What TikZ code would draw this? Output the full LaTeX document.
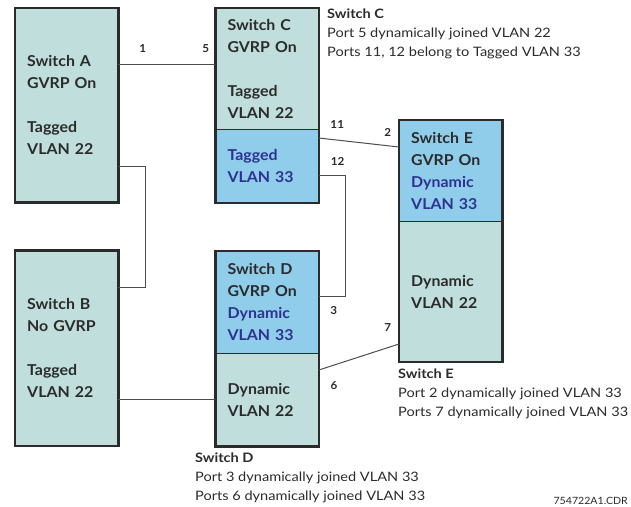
\documentclass[tikz,border=0pt]{standalone}
\usepackage{fontspec}
\setmainfont{Lato}[FakeStretch=1.06]
\newfontfamily\notefont{Lato}[FakeStretch=1.12]
\usepackage{tikz}
\usetikzlibrary{positioning,calc}
\definecolor{vlant}{HTML}{BFDEDC}
\definecolor{vlanb}{HTML}{8FCDEA}
\definecolor{vlanink}{HTML}{2E3192}
\definecolor{swink}{HTML}{2B2B2B}
\definecolor{wire}{HTML}{4D4D4D}

\begin{document}
\begin{tikzpicture}[x=1pt, y=1pt, text=swink,
  sec/.style={fill=vlant, inner xsep=12pt, inner ysep=0pt, text width=79pt, align=left,
    minimum height=#1, font=\bfseries\fontsize{15}{22}\selectfont},
  secb/.style={sec=#1, fill=vlanb},
  frame/.style={draw=swink, line width=2.5pt},
  divide/.style={draw=swink, line width=0.9pt},
  link/.style={draw=wire, line width=1pt},
  port/.style={font=\bfseries\fontsize{11}{13}\selectfont, inner sep=1pt},
  note/.style={align=left, inner sep=0pt, anchor=north west, font=\notefont\fontsize{13}{19}\selectfont}]
\useasboundingbox (0,0) rectangle (631,-506);
% switch sections
\node[sec=194pt, anchor=north west] (a) at (15,-8) {Switch A\\ GVRP On\\[22pt] Tagged\\ VLAN 22};
\node[sec=195pt, below=48pt of a] (b) {Switch B\\ No GVRP\\[22pt] Tagged\\ VLAN 22};
\node[sec=121pt, right=97pt of a.north east, anchor=north west] (ct) {Switch C\\ GVRP On\\[22pt] Tagged\\ VLAN 22};
\node[secb=73pt, below=0pt of ct] (cb) {\color{vlanink}Tagged\\ \color{vlanink}VLAN 33};
\node[secb=102pt, below=48pt of cb] (dt) {Switch D\\ GVRP On\\ \color{vlanink}Dynamic\\ \color{vlanink}VLAN 33};
\node[sec=93pt, below=0pt of dt] (db) {Dynamic\\ VLAN 22};
\node[secb=101pt, anchor=north west] (et) at (399,-120) {Switch E\\ GVRP On\\ \color{vlanink}Dynamic\\ \color{vlanink}VLAN 33};
\node[sec=140pt, below=0pt of et] (eb) {Dynamic\\ VLAN 22};
% dividers and frames
\draw[divide] (cb.north west) -- (cb.north east);
\draw[divide] (db.north west) -- (db.north east);
\draw[divide] (eb.north west) -- (eb.north east);
\draw[frame] (a.north west) rectangle (a.south east);
\draw[frame] (b.north west) rectangle (b.south east);
\draw[frame] (ct.north west) rectangle (cb.south east);
\draw[frame] (dt.north west) rectangle (db.south east);
\draw[frame] (et.north west) rectangle (eb.south east);
% links
\draw[link] (a.east |- 0,-64) -- node[port, pos=.25, above=10pt]{1} node[port, pos=.9, above=10pt]{5} (ct.west |- 0,-64);
\draw[link] (a.east |- 0,-166) -- ++(27,0) |- (b.east |- 0,-287);
\draw[link] (b.east |- 0,-399) -- (db.west |- 0,-399);
\draw[link] (cb.east |- 0,-138) -- node[port, pos=.23, above=10pt]{11} node[port, pos=.86, above=8pt]{2} (et.west |- 0,-147);
\draw[link] (cb.east |- 0,-175) -- node[port, pos=.7, above=8pt]{12} ++(27,0) -- ++(0,-121) -- node[port, pos=.45, below=9pt]{3} (dt.east |- 0,-296);
\draw[link] (db.east |- 0,-370) -- node[port, pos=.19, below=15pt]{6} node[port, pos=.86, above=15pt]{7} (eb.west |- 0,-344);
% notes
\node[note] (cnote) at (327,-9) {\textbf{Switch C}\\ Port 5 dynamically joined VLAN 22\\ Ports 11, 12 belong to Tagged VLAN 33};
\node[note] (enote) at (398,-369) {\textbf{Switch E}\\ Port 2 dynamically joined VLAN 33\\ Ports 7 dynamically joined VLAN 33};
\node[note] (dnote) at (195,-453) {\textbf{Switch D}\\ Port 3 dynamically joined VLAN 33\\ Ports 6 dynamically joined VLAN 33};
\node[anchor=base east, inner sep=0pt, font=\fontsize{10}{12}\selectfont] (code) at (628,-504) {754722A1.CDR};
\end{tikzpicture}
\end{document}
